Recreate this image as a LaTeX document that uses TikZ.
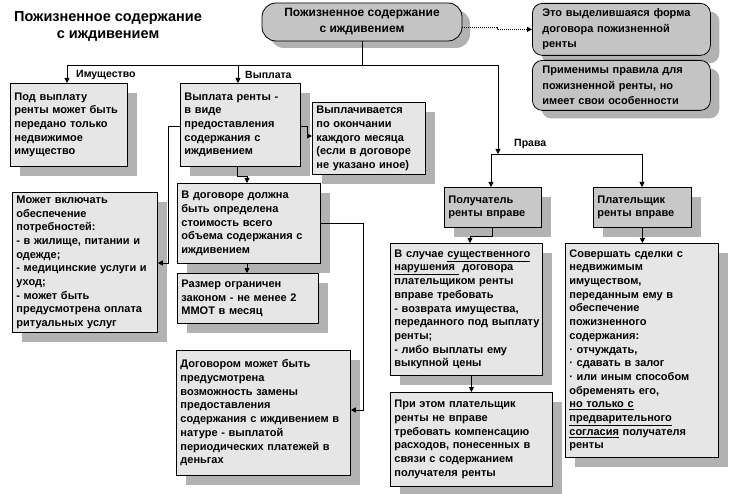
\documentclass[tikz,border=0pt]{standalone}
\usepackage{fontspec}
\setmainfont{Liberation Sans}
\usetikzlibrary{arrows.meta,shadows}
\definecolor{boxfill}{HTML}{E6E6E6}
\definecolor{darkfill}{HTML}{C4C4C4}
\definecolor{midfill}{HTML}{C8C8C8}
\definecolor{shadowgray}{HTML}{B2B2B2}
\tikzset{
  shd/.style={drop shadow={fill=shadowgray, opacity=1, shadow xshift=10pt, shadow yshift=-10pt}},
  bx/.style={draw, line width=0.8pt, fill=boxfill, shd, anchor=north west, align=left,
    inner xsep=4pt, inner ysep=3pt, font=\bfseries\fontsize{11}{13.7}\selectfont},
  gbx/.style={bx, fill=midfill},
  rbx/.style={draw, line width=0.8pt, fill=darkfill, rounded corners=10pt, anchor=north west, align=left,
    drop shadow={fill=shadowgray, opacity=1, shadow xshift=9pt, shadow yshift=-8pt},
    inner xsep=10pt, inner ysep=3pt, font=\bfseries\fontsize{11}{15.5}\selectfont},
  lbl/.style={anchor=west, inner sep=1pt, font=\bfseries\fontsize{10.5}{12}\selectfont},
  ln/.style={line width=0.8pt},
  arr/.style={ln, -{Triangle[length=5pt,width=5pt]}},
}
\begin{document}
\begin{tikzpicture}[x=1pt,y=-1pt]
\useasboundingbox[fill=white] (0,0) rectangle (730,494);

% title
\node[align=center, font=\bfseries\fontsize{14.5}{17}\selectfont] (title) at (108,26)
  {Пожизненное содержание\\с иждивением};

% top node
\node[draw, line width=0.8pt, fill=darkfill, rounded corners=14pt, minimum width=200pt, minimum height=38pt,
  align=center, font=\bfseries\fontsize{12}{16}\selectfont,
  drop shadow={fill=shadowgray, opacity=1, shadow xshift=8pt, shadow yshift=-7pt}] (top) at (362,22)
  {Пожизненное содержание\\с иждивением};

% right rounded nodes
\node[rbx, text width=158pt, minimum height=52pt] (r1) at (532,3)
  {Это выделившаяся форма\\договора пожизненной\\ренты};
\node[rbx, text width=158pt, minimum height=50pt] (r2) at (532,60)
  {Применимы правила для\\пожизненной ренты,  но\\имеет свои особенности};

% left / middle boxes
\node[bx, text width=109pt, minimum height=83pt] (a1) at (10,83)
  {Под выплату\\ренты может быть\\передано только\\недвижимое\\имущество};
\node[bx, text width=112pt, minimum height=83pt] (b1) at (180,83)
  {Выплата ренты -\\в виде\\предоставления\\содержания  с\\иждивением};
\node[bx, text width=105pt, minimum height=72pt] (b2) at (312,102)
  {Выплачивается\\по  окончании\\каждого месяца\\(если в договоре\\не указано иное)};
\node[bx, text width=137pt, minimum height=140pt] (a2) at (12,192)
  {Может включать\\обеспечение\\потребностей:\\- в жилище, питании и\\одежде;\\- медицинские услуги и\\уход;\\- может быть\\предусмотрена оплата\\ритуальных услуг};
\node[bx, text width=135pt, minimum height=80pt] (b3) at (177,183)
  {В договоре должна\\быть определена\\стоимость всего\\объема содержания с\\иждивением};
\node[bx, text width=133pt, minimum height=50pt] (b4) at (177,273)
  {Размер ограничен\\законом - не менее 2\\ММОТ в месяц};
\node[bx, text width=166pt, minimum height=125pt] (b5) at (176,350)
  {Договором  может быть\\предусмотрена\\возможность замены\\предоставления\\содержания с иждивением в\\натуре -  выплатой\\периодических платежей  в\\деньгах};

% right columns
\node[gbx, text width=89pt, minimum height=40pt] (c1) at (444,187)
  {Получатель\\ренты  вправе};
\node[gbx, text width=90pt, minimum height=40pt] (d1) at (593,187)
  {Плательщик\\ренты  вправе};
\node[bx, text width=144pt, minimum height=132pt] (c2) at (390,243)
  {В случае  \underline{существенного}\\\underline{нарушения\ } договора\\плательщиком  ренты\\вправе  требовать\\- возврата имущества,\\\mbox{переданного под выплату}\\ренты;\\- либо выплаты ему\\выкупной цены};
\node[bx, text width=154pt, minimum height=94pt] (c3) at (390,392)
  {При этом плательщик\\ренты не вправе\\требовать компенсацию\\расходов,  понесенных в\\связи с содержанием\\получателя ренты};
\node[bx, text width=145pt, minimum height=214pt] (d2) at (565,243)
  {Совершать сделки с\\недвижимым\\имуществом,\\переданным  ему  в\\обеспечение\\пожизненного\\содержания:\\· отчуждать,\\· сдавать в залог\\· или иным способом\\обременять его,\\\underline{но только с}\\\underline{предварительного}\\\underline{согласия} получателя\\ренты};

% junction coordinates
\coordinate (jL) at (67,65);
\coordinate (jB) at (238,65);
\coordinate (jR) at (498,65);
\coordinate (jP) at (498,154);
\coordinate (hL) at (491,154);
\coordinate (hR) at (642,154);
\coordinate (k1) at (492,236);
\coordinate (k2) at (470,236);
\coordinate (m1) at (307,126);
\coordinate (m2) at (307,136);
\coordinate (n1) at (237,176);
\coordinate (n2) at (247,176);
\coordinate (p1) at (168,126);
\coordinate (p2) at (168,263);
\coordinate (s1) at (363,223);
\coordinate (s2) at (363,410);
\coordinate (t1) at (497,27);

% connectors
\draw[ln] (top.south) -- (top.south |- jL);
\draw[ln] (jL) -- (jR);
\draw[arr] (jL) -- (jL |- a1.north);
\draw[arr] (jB) -- (jB |- b1.north);
\draw[arr] (jR) -- (jP);
\draw[ln] (hL) -- (hR);
\draw[arr] (hL) -- (hL |- c1.north);
\draw[arr] (hR) -- (hR |- d1.north);
\draw[arr] (k1 |- c1.south) -- (k1) -- (k2) -- (k2 |- c2.north);
\draw[arr] (d1.south) -- (d1.south |- d2.north);
\draw[arr] (c3.north |- c2.south) -- (c3.north);
\draw[arr] (b1.east |- m1) -- (m1) -- (m2) -- (b2.west |- m2);
\draw[arr] (n1 |- b1.south) -- (n1) -- (n2) -- (n2 |- b3.north);
\draw[arr] (b1.west |- p1) -- (p1) -- (p2) -- (a2.east |- p2);
\draw[arr] (n2 |- b3.south) -- (n2 |- b4.north);
\draw[arr] (b3.east |- s1) -- (s1) -- (s2) -- (b5.east |- s2);
\draw[arr, dash pattern=on 1pt off 1pt] (top.east |- t1) -- (t1) -- (t1 |- r1.west) -- (r1.west);

% labels
\node[lbl] (lImu) at (75,75) {Имущество};
\node[lbl] (lVy) at (244,75) {Выплата};
\node[lbl] (lPr) at (513,144) {Права};
\end{tikzpicture}
\end{document}
